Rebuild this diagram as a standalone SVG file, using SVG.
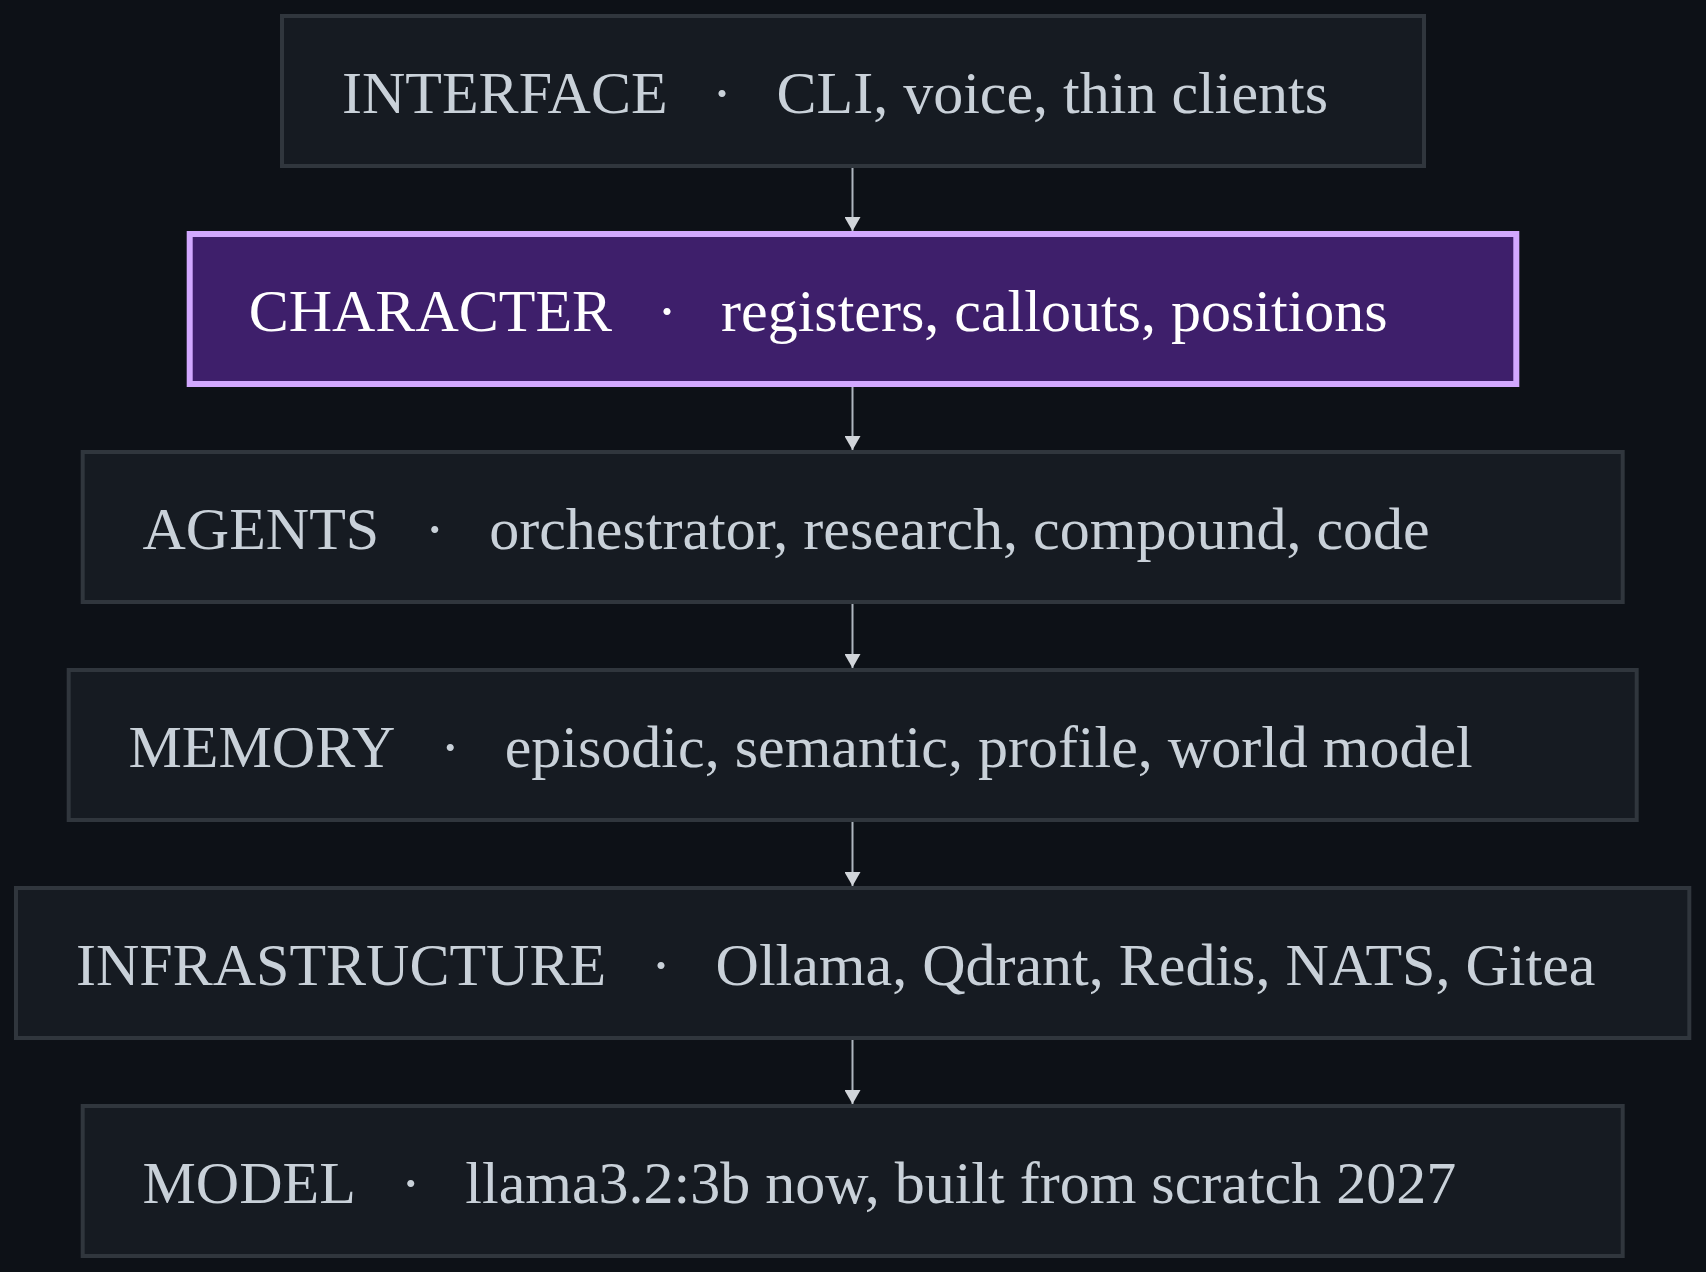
<svg xmlns="http://www.w3.org/2000/svg" width="1706" height="1272" viewBox="0 0 1706 1272">
  <style>
    .box { fill: #161b22; stroke: #30363d; stroke-width: 4; }
    .hl { fill: #3e1f6b; stroke: #d2a8ff; stroke-width: 6; }
    .t { font-family: "Liberation Serif", "Times New Roman", serif; font-size: 60px; fill: #c9d1d9; }
    .th { fill: #ffffff; }
    .edge { stroke: #aeb6bf; stroke-width: 2; fill: none; }
  </style>
  <defs>
    <marker id="arrow" viewBox="0 0 14 16" refX="14" refY="8" markerWidth="14" markerHeight="16" markerUnits="userSpaceOnUse" orient="auto">
      <path d="M0,0 L14,8 L0,16 Z" fill="#d1d5da"/>
    </marker>
  </defs>
  <rect x="0" y="0" width="1706" height="1272" fill="#0d1117"/>

  <g id="connectors">
    <line class="edge" x1="852.5" y1="168" x2="852.5" y2="231" marker-end="url(#arrow)"/>
    <line class="edge" x1="852.5" y1="387" x2="852.5" y2="450" marker-end="url(#arrow)"/>
    <line class="edge" x1="852.5" y1="604" x2="852.5" y2="668" marker-end="url(#arrow)"/>
    <line class="edge" x1="852.5" y1="822" x2="852.5" y2="886" marker-end="url(#arrow)"/>
    <line class="edge" x1="852.5" y1="1040" x2="852.5" y2="1104" marker-end="url(#arrow)"/>
  </g>

  <g id="interface">
    <rect class="box" x="282" y="16" width="1142" height="150"/>
    <text class="t" x="342" y="112.5">INTERFACE<tspan dx="44.5">·</tspan><tspan dx="44.5">CLI, voice, thin clients</tspan></text>
  </g>

  <g id="character">
    <rect class="hl" x="189.7" y="234" width="1326.6" height="150"/>
    <text class="t th" x="248.7" y="330.5">CHARACTER<tspan dx="45">·</tspan><tspan dx="44">registers, callouts, positions</tspan></text>
  </g>

  <g id="agents">
    <rect class="box" x="82.7" y="452" width="1540" height="150"/>
    <text class="t" x="142.5" y="548.5">AGENTS<tspan dx="45.5">·</tspan><tspan dx="44.5">orchestrator, research, compound, code</tspan></text>
  </g>

  <g id="memory">
    <rect class="box" x="68.7" y="670" width="1568" height="150"/>
    <text class="t" x="128.5" y="766.5">MEMORY<tspan dx="45">·</tspan><tspan dx="44.5">episodic, semantic, profile, world model</tspan></text>
  </g>

  <g id="infrastructure">
    <rect class="box" x="16" y="888" width="1673.3" height="150"/>
    <text class="t" x="76" y="984.5">INFRASTRUCTURE<tspan dx="45">·</tspan><tspan dx="44.5">Ollama, Qdrant, Redis, NATS, Gitea</tspan></text>
  </g>

  <g id="model">
    <rect class="box" x="82.7" y="1106" width="1540" height="150"/>
    <text class="t" x="142.5" y="1202.5">MODEL<tspan dx="45">·</tspan><tspan dx="44.5">llama3.2:3b now, built from scratch 2027</tspan></text>
  </g>
</svg>
